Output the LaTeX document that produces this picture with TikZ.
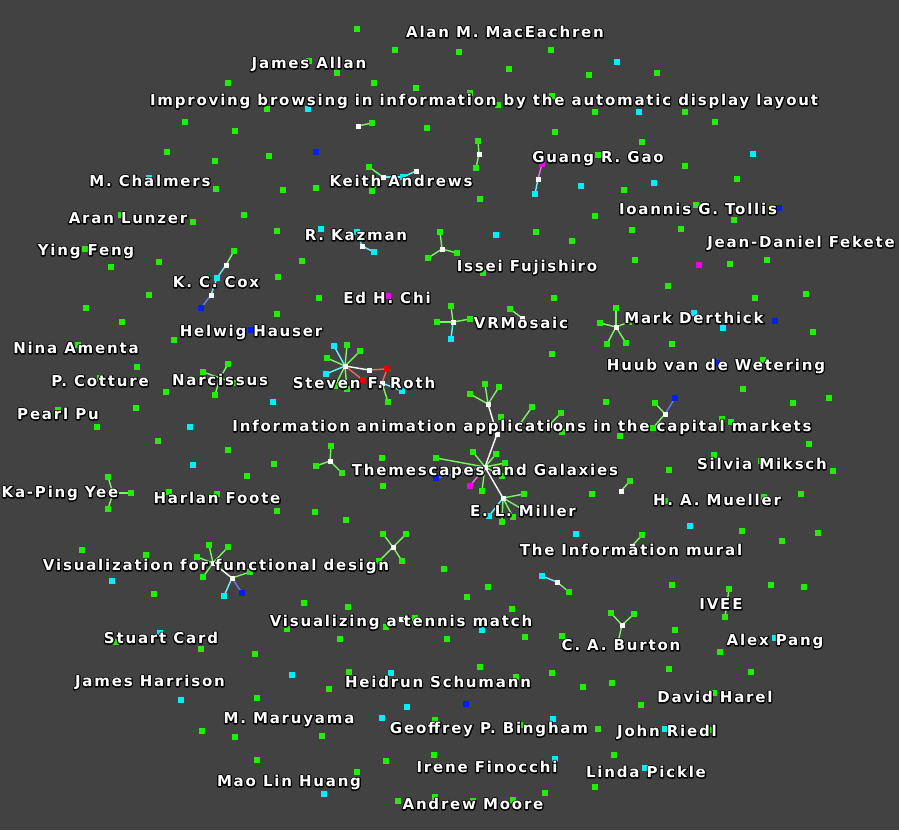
\documentclass[tikz,border=0pt]{standalone}
\usepackage{fontspec}
\newfontfamily\lblfont{DejaVu Sans}[LetterSpace=12]
\definecolor{bggray}{RGB}{66,66,66}
\definecolor{dgreen}{RGB}{34,238,0}
\definecolor{dcyan}{RGB}{0,238,255}
\definecolor{dblue}{RGB}{0,32,238}
\definecolor{dmag}{RGB}{238,0,238}
\definecolor{dred}{RGB}{238,0,0}
\pgfdeclarelayer{links}
\pgfsetlayers{links,main}
\tikzset{
  dot/.style={rectangle, inner sep=0pt, minimum size=5.5pt},
  gdot/.style={dot, fill=dgreen},
  cdot/.style={dot, fill=dcyan},
  bdot/.style={dot, fill=dblue},
  mdot/.style={dot, fill=dmag},
  rdot/.style={dot, fill=dred},
  hub/.style={dot, fill=white, minimum size=5pt},
  link/.style={line width=1.4pt, draw=#1!60!white},
  lbl/.style={text=white, inner sep=0pt, text height=11pt, text depth=0pt,
    font={\lblfont\bfseries\fontsize{15}{16}\selectfont}},
}
% black stroked rim under the white letters
\newcommand{\outl}[1]{\rlap{\special{pdf:literal direct 0 G 2.4 w 1 j 1 Tr}#1\special{pdf:literal direct 0 Tr 0.4 w 0 j}}#1}

\begin{document}
\begin{tikzpicture}[x=1pt,y=-1pt]
\useasboundingbox (0,0) rectangle (899,830);
\begin{pgfonlayer}{links}
\fill[bggray] (0,0) rectangle (899,830);
\end{pgfonlayer}

% loose points
\foreach \x/\y [count=\i] in {357/29,395/50,309/61,337/73,228/83,374/83,416/88,267/109,185/122,235/131,
  427/128,167/152,269/156,215/161,216/189,283/190,316/188,244/215,193/222,121/215,277/231,85/249,
  111/267,159/262,302/261,278/277,459/52,551/50,509/69,589/75,657/73,470/93,498/105,552/96,595/112,
  685/112,715/122,555/132,642/142,598/155,685/166,480/199,624/190,737/179,595/216,632/230,681/229,
  734/220,696/205,536/232,572/241,635/260,730/264,767/260,483/273,149/295,86/308,277/314,122/322,
  174/340,78/345,137/367,100/378,166/392,136/408,58/410,97/427,158/441,228/450,274/464,247/476,
  169/492,217/494,277/511,82/550,319/298,554/298,552/354,382/458,383/486,315/512,346/520,501/417,
  592/494,562/432,668/286,755/298,806/294,813/332,672/344,763/360,743/389,606/402,829/398,793/403,
  620/436,722/419,731/422,809/444,714/455,761/461,669/470,833/471,801/494,665/501,764/497,742/531,
  818/533,782/541,146/555,154/594,287/629,116/642,201/649,255/654,257/698,202/731,235/737,257/760,
  444/569,488/587,467/597,304/603,348/607,512/609,386/627,340/639,447/639,525/637,562/636,480/667,
  349/672,516/677,552/673,583/687,329/689,435/720,520/725,598/729,322/736,434/755,386/761,357/772,
  545/793,595/787,398/801,435/797,473/801,513/800,672/585,771/585,804/587,675/630,720/652,669/669,
  751/672,612/683,714/693,641/705,712/730,614/755}
  \node[gdot] (g\i) at (\x,\y) {};
\foreach \x/\y [count=\i] in {308/109,149/178,321/229,617/62,639/112,753/154,581/186,654/183,496/235,
  273/402,190/427,193/465,576/534,694/313,723/328,690/526,112/581,160/633,292/675,181/700,482/630,
  391/673,407/707,382/718,553/719,555/759,324/794,775/638,665/729,645/768}
  \node[cdot] (c\i) at (\x,\y) {};
\foreach \x/\y [count=\i] in {316/152,779/208,251/330,775/321,717/363,466/704}
  \node[bdot] (b\i) at (\x,\y) {};
\node[mdot] (m1) at (699,265) {};
\node[mdot] (m2) at (388,296) {};

% small groups
\node[hub] (ka) at (383,177) {};
\node[gdot] (ka1) at (369,167) {};
\node[gdot] (ka2) at (372,191) {};
\node[cdot] (ka3) at (403,177) {};
\node[hub] (ka4) at (416,171) {};
\node[hub] (ib) at (358,126) {};
\node[gdot] (ib1) at (372,123) {};
\node[gdot] (ch1) at (478,141) {};
\node[hub] (ch) at (479,154) {};
\node[gdot] (ch2) at (476,168) {};
\node[mdot] (gg1) at (542,164) {};
\node[hub] (gg) at (538,179) {};
\node[cdot] (gg2) at (535,194) {};
\node[hub] (rk) at (362,246) {};
\node[cdot] (rk1) at (357,232) {};
\node[cdot] (rk2) at (374,252) {};
\node[hub] (if) at (442,249) {};
\foreach \x/\y [count=\i] in {440/232,428/258,457/253} \node[gdot] (if\i) at (\x,\y) {};
\node[gdot] (kc1) at (234,251) {};
\node[hub] (kc2) at (226,265) {};
\node[cdot] (kc3) at (217,278) {};
\node[hub] (kc4) at (211,295) {};
\node[bdot] (kc5) at (201,308) {};
\node[hub] (nc) at (220,378) {};
\foreach \x/\y [count=\i] in {228/364,203/372,215/395,235/383} \node[gdot] (nc\i) at (\x,\y) {};
\node[hub] (vr) at (453,322) {};
\foreach \x/\y [count=\i] in {451/306,437/322,470/319} \node[gdot] (vr\i) at (\x,\y) {};
\node[cdot] (vr4) at (451,339) {};
\node[gdot] (vm1) at (510,309) {};
\node[hub] (vm) at (522,318) {};
\node[hub] (md) at (616,327) {};
\foreach \x/\y [count=\i] in {616/308,600/323,607/344,626/343,629/322} \node[gdot] (md\i) at (\x,\y) {};
% Roth group
\node[hub] (sr) at (345,366) {};
\node[cdot] (sr1) at (334,346) {};
\node[cdot] (sr2) at (326,374) {};
\foreach \x/\y [count=\i from 3] in {347/345,360/351,327/358,335/386,347/389} \node[gdot] (sr\i) at (\x,\y) {};
\node[hub] (sw) at (369,370) {};
\node[rdot] (sa) at (387,369) {};
\node[rdot] (sb) at (363,380) {};
\node[hub] (sx) at (382,383) {};
\node[cdot] (sx1) at (402,391) {};
\node[gdot] (sx2) at (388,402) {};
% big tree
\node[hub] (ia) at (488,404) {};
\foreach \x/\y [count=\i] in {485/384,499/387,470/394} \node[gdot] (ia\i) at (\x,\y) {};
\node[hub] (ic) at (497,434) {};
\node[gdot] (ip1) at (532,407) {};
\node[hub] (ip) at (520,424) {};
\node[gdot] (iq1) at (561,413) {};
\node[hub] (iq) at (549,425) {};
\node[hub] (ts) at (485,467) {};
\foreach \x/\y [count=\i] in {436/458,473/452,496/454,505/463,502/476,482/491} \node[gdot] (ts\i) at (\x,\y) {};
\node[mdot] (ts7) at (470,486) {};
\node[bdot] (ts8) at (436,478) {};
\node[hub] (em) at (503,498) {};
\foreach \x/\y [count=\i] in {524/494,522/509,513/517,502/522} \node[gdot] (em\i) at (\x,\y) {};
\node[cdot] (em5) at (489,516) {};
\node[hub] (ty) at (330,461) {};
\foreach \x/\y [count=\i] in {331/446,316/466,342/473} \node[gdot] (ty\i) at (\x,\y) {};
\node[hub] (kp) at (113,493) {};
\foreach \x/\y [count=\i] in {108/477,131/493,108/509} \node[gdot] (kp\i) at (\x,\y) {};
\node[hub] (vd) at (393,547) {};
\foreach \x/\y [count=\i] in {383/534,406/534,379/561,402/561} \node[gdot] (vd\i) at (\x,\y) {};
\node[hub] (vf) at (213,563) {};
\foreach \x/\y [count=\i] in {209/545,228/547,197/557,203/577} \node[gdot] (vf\i) at (\x,\y) {};
\node[hub] (vg) at (232,578) {};
\node[cdot] (vg1) at (224,596) {};
\node[bdot] (vg2) at (242,593) {};
\node[gdot] (vg3) at (250,572) {};
\node[hub] (cm) at (665,414) {};
\node[bdot] (cm1) at (675,398) {};
\node[gdot] (cm2) at (655,403) {};
\node[gdot] (cm3) at (653,428) {};
\node[gdot] (hm1) at (630,481) {};
\node[hub] (hm) at (621,491) {};
\node[gdot] (mu1) at (642,535) {};
\node[hub] (mu) at (632,546) {};
\node[cdot] (tm1) at (542,576) {};
\node[hub] (tm) at (557,582) {};
\node[gdot] (tm2) at (569,592) {};
\node[hub] (tn) at (401,619) {};
\node[gdot] (tn1) at (415,618) {};
\node[gdot] (iv1) at (729,589) {};
\node[hub] (iv) at (727,603) {};
\node[gdot] (iv2) at (725,617) {};
\node[hub] (cb) at (622,625) {};
\foreach \x/\y [count=\i] in {611/613,634/614,618/642} \node[gdot] (cb\i) at (\x,\y) {};

\begin{pgfonlayer}{links}
\foreach \a/\b/\c in {ka/ka1/dgreen,ka/ka2/dgreen,ka/ka3/dcyan,ka4/ka3/dcyan,ib/ib1/dgreen,
  ch/ch1/dgreen,ch/ch2/dgreen,gg/gg1/dmag,gg/gg2/dcyan,rk/rk1/dcyan,rk/rk2/dcyan,
  if/if1/dgreen,if/if2/dgreen,if/if3/dgreen,kc2/kc1/dgreen,kc2/kc3/dcyan,kc4/kc3/dcyan,kc4/kc5/dblue,
  vr/vr1/dgreen,vr/vr2/dgreen,vr/vr3/dgreen,vr/vr4/dcyan,vm/vm1/dgreen,
  sr/sr1/dcyan,sr/sr2/dcyan,sr/sw/white,sr/sb/dred,sw/sa/dred,sx/sa/dred,sx/sx1/dcyan,sx/sx2/dgreen,
  ia/ic/white,ic/ts/white,ts/em/white,ts/ts7/dmag,ts/ts8/dblue,em/em5/dcyan,ip/ip1/dgreen,iq/iq1/dgreen,
  vf/vg/white,vg/vg1/dcyan,vg/vg2/dblue,vg/vg3/dgreen,cm/cm1/dblue,cm/cm2/dgreen,cm/cm3/dgreen,
  hm/hm1/dgreen,mu/mu1/dgreen,tm/tm1/dcyan,tm/tm2/dgreen,tn/tn1/dgreen,iv/iv1/dgreen,iv/iv2/dgreen}
  \draw[link=\c] (\a.center) -- (\b.center);
\foreach \i in {1,...,4} {
  \draw[link=dgreen] (nc.center) -- (nc\i.center);
  \draw[link=dgreen] (vd.center) -- (vd\i.center);
  \draw[link=dgreen] (vf.center) -- (vf\i.center);
  \draw[link=dgreen] (em.center) -- (em\i.center);
}
\foreach \i in {1,...,5} \draw[link=dgreen] (md.center) -- (md\i.center);
\foreach \i in {3,...,7} \draw[link=dgreen] (sr.center) -- (sr\i.center);
\foreach \i in {1,...,6} \draw[link=dgreen] (ts.center) -- (ts\i.center);
\foreach \i in {1,2,3} {
  \draw[link=dgreen] (ia.center) -- (ia\i.center);
  \draw[link=dgreen] (ty.center) -- (ty\i.center);
  \draw[link=dgreen] (kp.center) -- (kp\i.center);
  \draw[link=dgreen] (cb.center) -- (cb\i.center);
}
\end{pgfonlayer}

% titles
\foreach \x/\y/\t [count=\i] in {505/32/Alan M. MacEachren, 309/63/James Allan,
  484/100/Improving browsing in information by the automatic display layout,
  598/157/Guang R. Gao, 150/181/M. Chalmers, 401/181/Keith Andrews, 698/209/Ioannis G. Tollis,
  128/218/Aran Lunzer, 356/235/R. Kazman, 801/242/Jean-Daniel Fekete, 86/250/Ying Feng,
  527/266/Issei Fujishiro, 216/282/K. C. Cox, 387/298/Ed H. Chi, 521/323/VRMosaic,
  694/318/Mark Derthick, 251/331/Helwig Hauser, 76/348/Nina Amenta, 716/365/Huub van de Wetering,
  100/381/P. Cotture, 220/380/Narcissus, 364/383/Steven F. Roth, 58/414/Pearl Pu,
  522/426/Information animation applications in the capital markets,
  485/470/Themescapes and Galaxies, 762/464/Silvia Miksch, 60/492/Ka-Ping Yee, 217/498/Harlan Foote,
  717/500/H. A. Mueller, 523/511/E. L. Miller, 631/550/The Information mural,
  216/565/Visualization for functional design, 721/604/IVEE, 401/621/Visualizing a tennis match,
  161/638/Stuart Card, 621/645/C. A. Burton, 775/640/Alex Pang, 150/681/James Harrison,
  438/682/Heidrun Schumann, 715/697/David Harel, 289/718/M. Maruyama, 489/728/Geoffrey P. Bingham,
  667/731/John Riedl, 289/781/Mao Lin Huang, 487/767/Irene Finocchi, 646/772/Linda Pickle,
  473/804/Andrew Moore}
  \node[lbl] (t\i) at (\x,\y) {\outl{\t}};
\end{tikzpicture}
\end{document}
